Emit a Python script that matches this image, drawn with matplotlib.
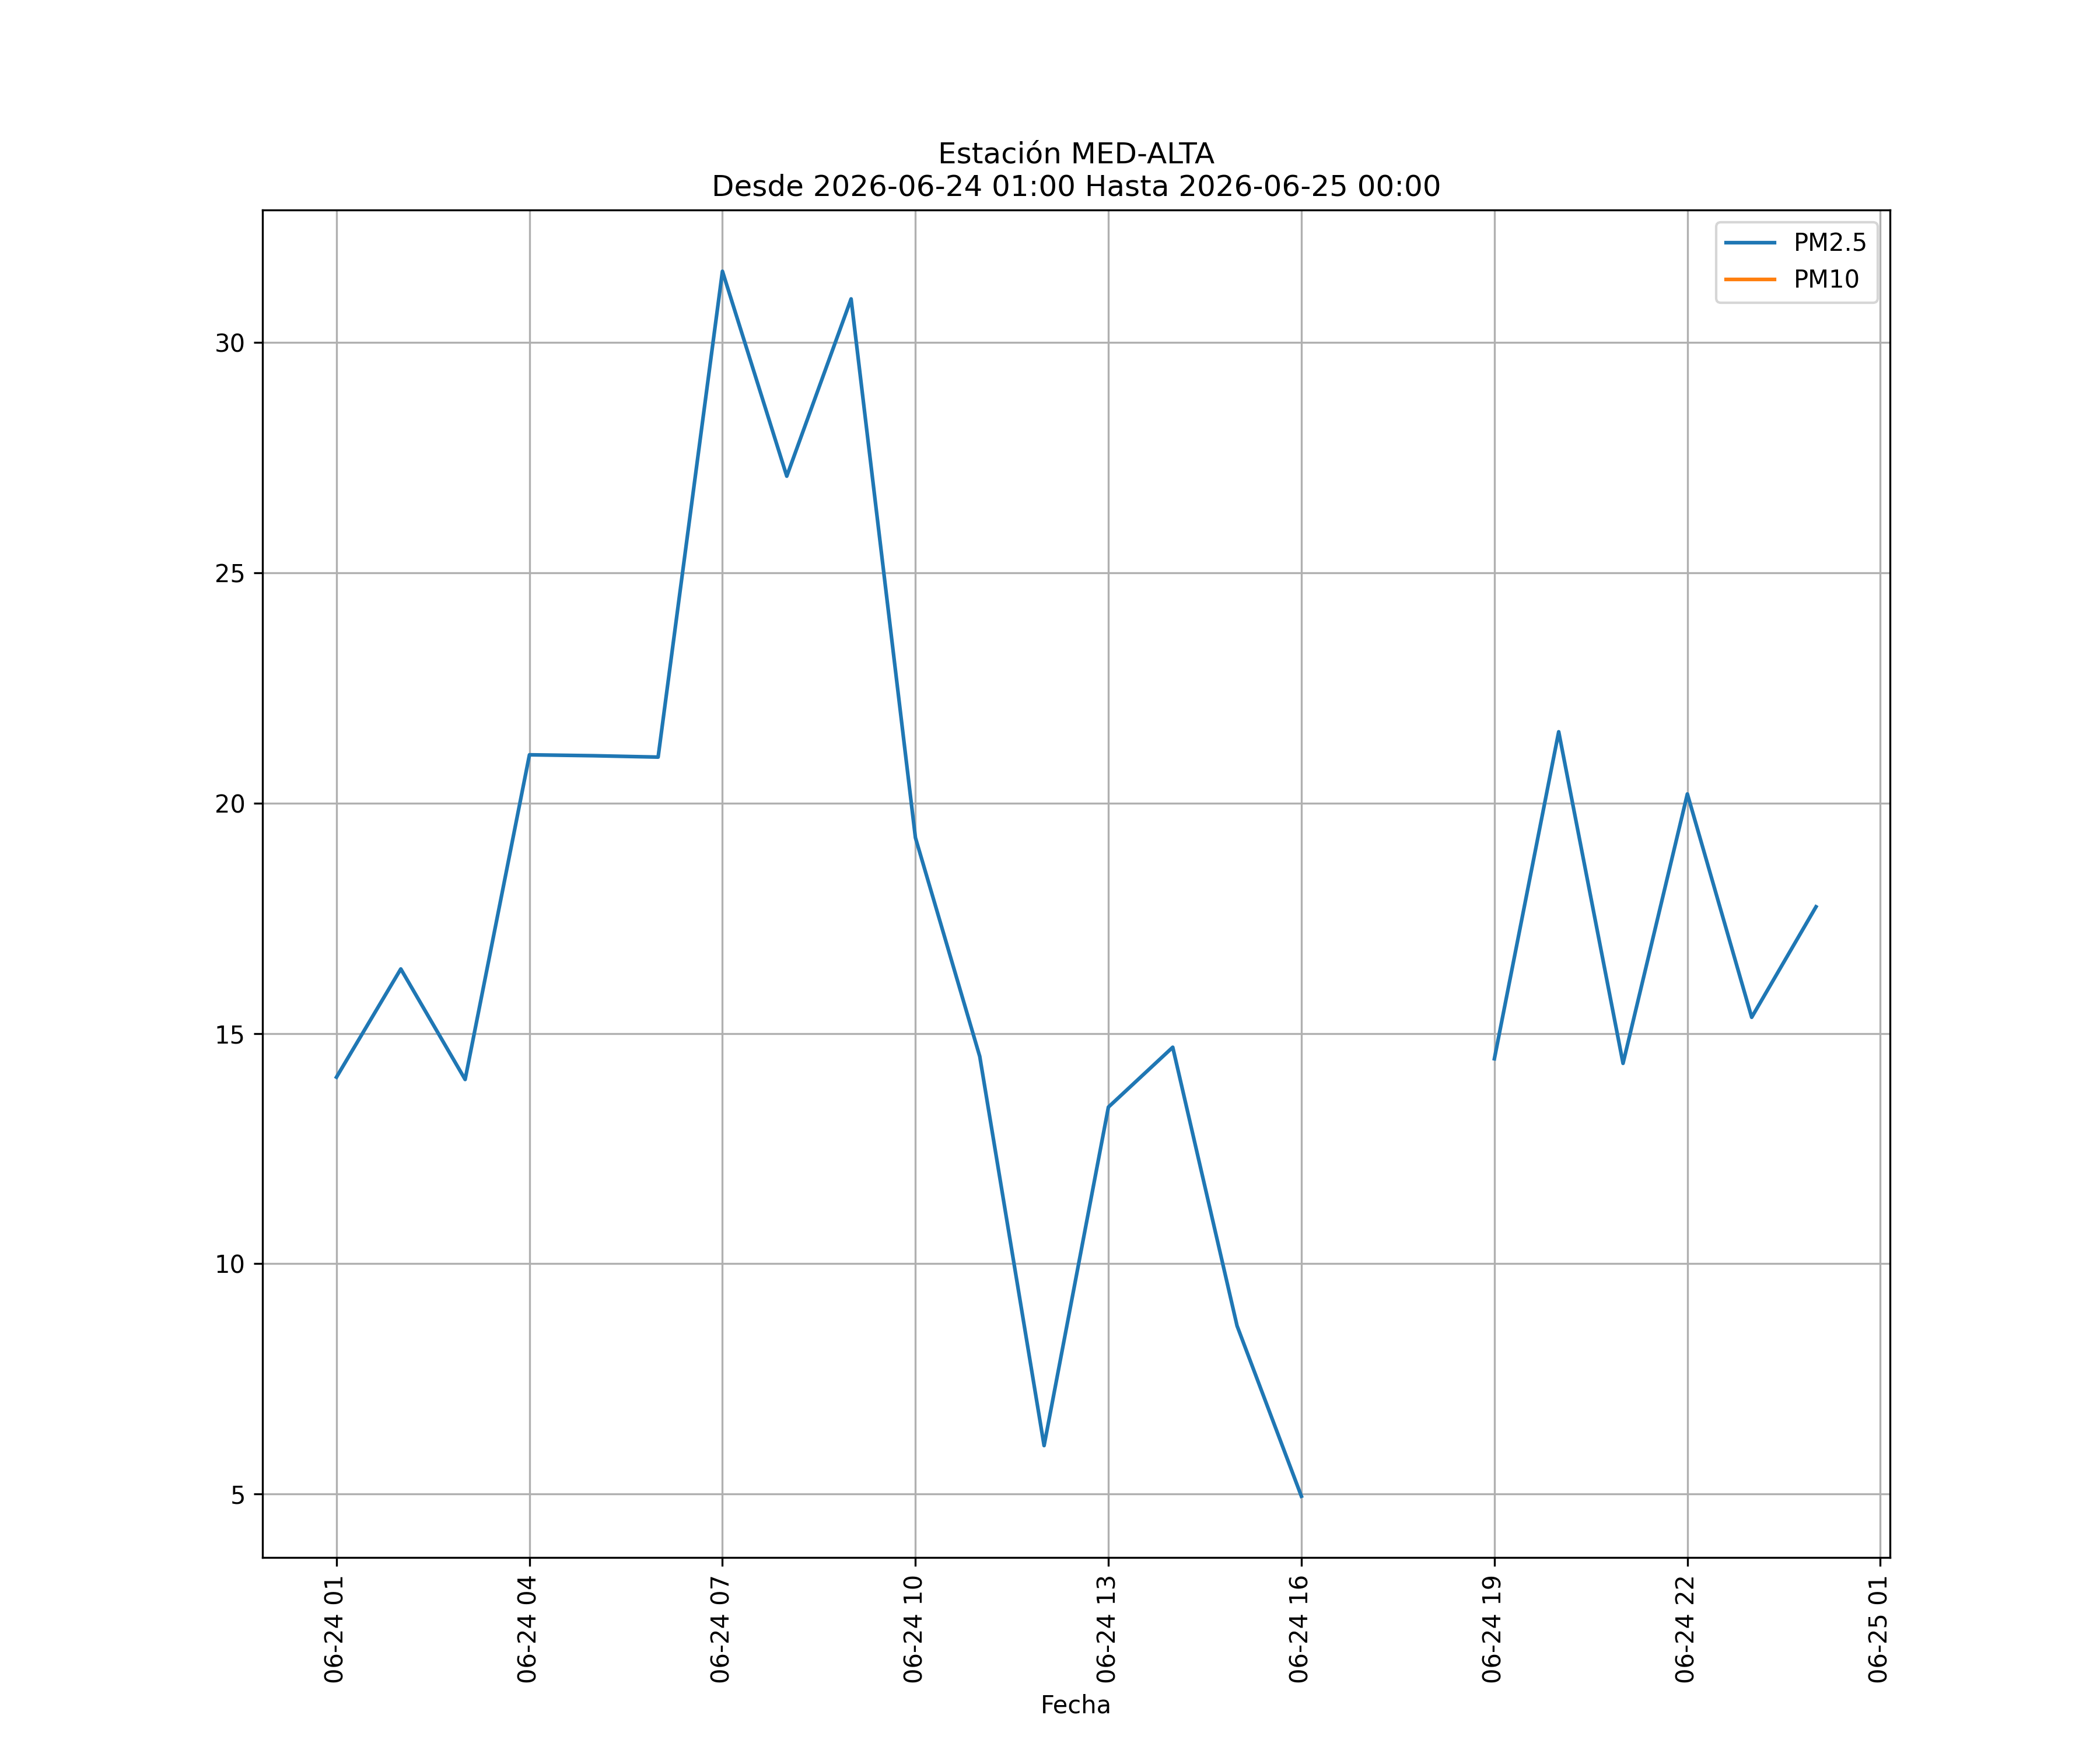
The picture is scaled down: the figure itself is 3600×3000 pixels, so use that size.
import matplotlib
matplotlib.use("Agg")
import matplotlib.pyplot as plt
import matplotlib.dates as mdates
import numpy as np
import pandas as pd

estacion = "MED-ALTA"
fechas = pd.date_range("2026-06-24 01:00", "2026-06-25 00:00", freq="h")
pm25 = [14.05, 16.4, 14.0, 21.05, 21.03, 21.0, 31.55, 27.1, 30.95, 19.25,
        14.5, 6.05, 13.4, 14.7, 8.65, 4.95, np.nan, np.nan, 14.45, 21.55,
        14.35, 20.2, 15.35, 17.75]
pm10 = [np.nan] * len(fechas)

df = pd.DataFrame({"PM2.5": pm25, "PM10": pm10}, index=fechas)

fig, ax = plt.subplots(figsize=(12, 10))
ax.plot(df.index, df["PM2.5"], label="PM2.5")
ax.plot(df.index, df["PM10"], label="PM10")
ax.set_title("Estación {}\nDesde {} Hasta {}".format(
    estacion,
    fechas[0].strftime("%Y-%m-%d %H:%M"),
    fechas[-1].strftime("%Y-%m-%d %H:%M"),
))
ax.set_xlabel("Fecha")
ax.grid(True)
ax.legend(loc="upper right")

# marcas cada 3 horas empezando a la 01
ax.xaxis.set_major_locator(mdates.HourLocator(byhour=range(1, 24, 3)))
ax.xaxis.set_major_formatter(mdates.DateFormatter("%m-%d %H"))
plt.xticks(rotation=90)

fig.savefig("out.png", dpi=300)
